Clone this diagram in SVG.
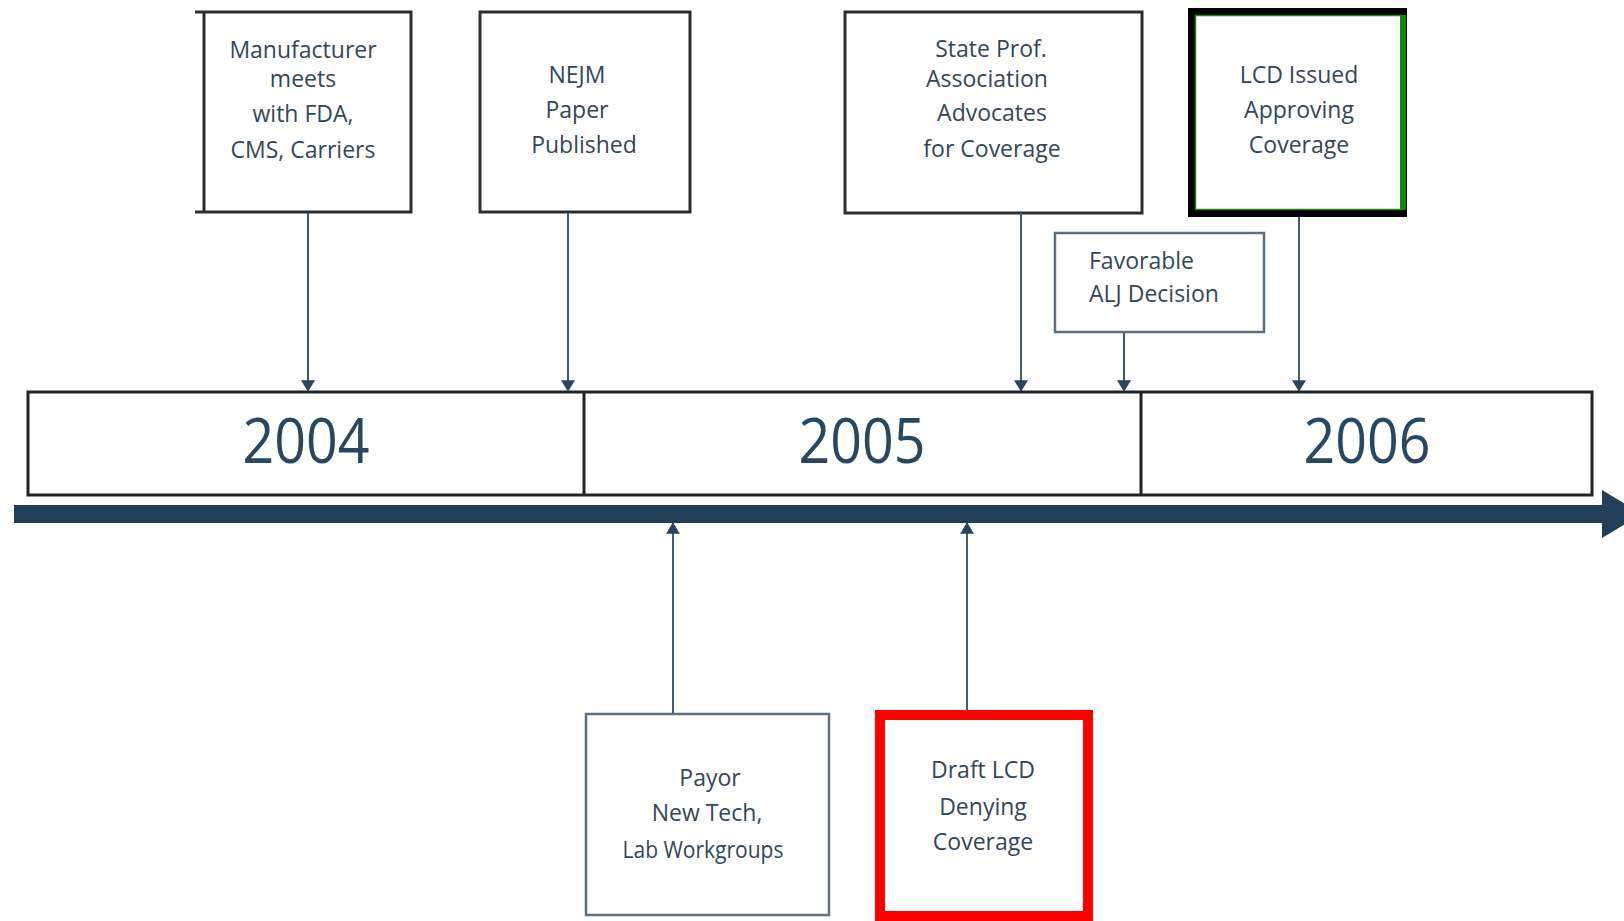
<svg xmlns="http://www.w3.org/2000/svg" width="1624" height="921" viewBox="0 0 1624 921">
<defs>
<style>
.t{font-family:"Open Sans","Noto Sans",sans-serif;font-size:23px;fill:#33475a;text-anchor:middle}
.tl{text-anchor:start}
.yr{font-family:"Open Sans","Noto Sans",sans-serif;font-size:62px;fill:#274763;text-anchor:middle}
.box{fill:#fff;stroke:#2a2e33;stroke-width:3}
.lbox{fill:#fff;stroke:#5b7083;stroke-width:2.5}
.conn{stroke:#435a6e;stroke-width:2;fill:none}
</style>
<marker id="ah" markerUnits="userSpaceOnUse" markerWidth="18" markerHeight="14" refX="13" refY="8.5" orient="auto" viewBox="0 0 14 17">
<path d="M0,0 L14,8.5 L0,17 Z" fill="#2a4560"/>
</marker>
</defs>
<rect width="1624" height="921" fill="#fff"/>

<g id="timeline">
<rect x="28" y="392" width="1564" height="103" fill="#fff" stroke="#1f2326" stroke-width="3"/>
<line x1="584" y1="392" x2="584" y2="495" stroke="#1f2326" stroke-width="3"/>
<line x1="1141" y1="392" x2="1141" y2="495" stroke="#1f2326" stroke-width="3"/>
<text class="yr" x="306" y="463" textLength="127" lengthAdjust="spacingAndGlyphs">2004</text>
<text class="yr" x="862" y="463" textLength="127" lengthAdjust="spacingAndGlyphs">2005</text>
<text class="yr" x="1367" y="463" textLength="127" lengthAdjust="spacingAndGlyphs">2006</text>
<line x1="14" y1="514" x2="1604" y2="514" stroke="#223f57" stroke-width="18"/>
<polygon points="1602,490 1642,514 1602,538" fill="#223f57"/>
</g>

<g id="manufacturer">
<path class="box" d="M195,12 H411 V212 H195 M204,12 V212"/>
<text class="t" x="303" y="58">Manufacturer</text>
<text class="t" x="303" y="87">meets</text>
<text class="t" x="303" y="122">with FDA,</text>
<text class="t" x="303" y="158">CMS, Carriers</text>
</g>

<g id="nejm">
<rect class="box" x="480" y="12" width="210" height="200"/>
<text class="t" x="577" y="83">NEJM</text>
<text class="t" x="577" y="118">Paper</text>
<text class="t" x="584" y="153">Published</text>
</g>

<g id="state">
<rect class="box" x="845" y="12" width="297" height="201"/>
<text class="t" x="991" y="57">State Prof.</text>
<text class="t" x="987" y="87">Association</text>
<text class="t" x="992" y="121">Advocates</text>
<text class="t" x="992" y="157">for Coverage</text>
</g>

<g id="lcd-issued">
<rect x="1191.5" y="11.5" width="212" height="202" fill="#fff" stroke="#000" stroke-width="7"/>
<rect x="1195.5" y="15.5" width="206" height="194" fill="none" stroke="#1a8a1a" stroke-width="1.5"/>
<line x1="1403" y1="15" x2="1403" y2="210" stroke="#0f8a0f" stroke-width="6"/>
<text class="t" x="1299" y="83">LCD Issued</text>
<text class="t" x="1299" y="118">Approving</text>
<text class="t" x="1299" y="153">Coverage</text>
</g>

<g id="alj">
<rect class="lbox" x="1055" y="233" width="209" height="99"/>
<text class="t tl" x="1089" y="269">Favorable</text>
<text class="t tl" x="1089" y="302">ALJ Decision</text>
</g>

<g id="payor">
<rect class="lbox" x="586" y="714" width="243" height="201"/>
<text class="t" x="710" y="786">Payor</text>
<text class="t" x="707" y="821">New Tech,</text>
<text class="t" x="703" y="858" textLength="161" lengthAdjust="spacingAndGlyphs">Lab Workgroups</text>
</g>

<g id="draft-lcd">
<rect x="880" y="715" width="208" height="201" fill="#fff" stroke="#ff0000" stroke-width="10"/>
<text class="t" x="983" y="778">Draft LCD</text>
<text class="t" x="983" y="815">Denying</text>
<text class="t" x="983" y="850">Coverage</text>
</g>

<g id="connectors">
<line class="conn" x1="308" y1="213" x2="308" y2="391" marker-end="url(#ah)"/>
<line class="conn" x1="568" y1="213" x2="568" y2="391" marker-end="url(#ah)"/>
<line class="conn" x1="1021" y1="213" x2="1021" y2="391" marker-end="url(#ah)"/>
<line class="conn" x1="1124" y1="333" x2="1124" y2="391" marker-end="url(#ah)"/>
<line class="conn" x1="1299" y1="217" x2="1299" y2="391" marker-end="url(#ah)"/>
<line class="conn" x1="673" y1="713" x2="673" y2="523" marker-end="url(#ah)"/>
<line class="conn" x1="967" y1="710" x2="967" y2="523" marker-end="url(#ah)"/>
</g>
</svg>
